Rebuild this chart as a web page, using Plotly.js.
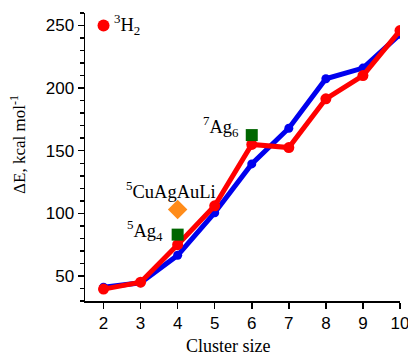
<!DOCTYPE html>
<html><head><meta charset="utf-8">
<script src="https://cdn.plot.ly/plotly-3.0.1.min.js"></script>
<style>html,body{margin:0;padding:0;background:#fff}#c{width:408px;height:356px}</style>
</head><body><div id="c"></div>
<script>
const clusterSize = [2, 3, 4, 5, 6, 7, 8, 9, 10];
const blueSeries = [41, 44.5, 66.5, 100.5, 139.5, 168, 207.5, 216, 243];
const redSeries = [39.5, 45, 75, 106, 155, 152.5, 191.5, 210, 246];
const agX = [4, 6];
const agY = [83, 162.5];
const agLabels = ['<sup>5</sup>Ag<sub>4</sub>', '<sup>7</sup>Ag<sub>6</sub>'];
const cuX = [4];
const cuY = [103];
const cuLabel = '<sup>5</sup>CuAgAuLi';
const legendX = [2];
const legendY = [250];
const legendLabel = '<sup>3</sup>H<sub>2</sub>';
const yTicks = [50, 100, 150, 200, 250];
const xTitle = 'Cluster size';
const yTitle = 'ΔE, kcal mol<sup>-1</sup>';

const serif = 'Liberation Serif, Times New Roman, serif';
const sans = 'Liberation Sans, Arial, sans-serif';
const labelFont = {family: serif, size: 18.5, color: '#000'};

const traces = [
  {x: clusterSize, y: blueSeries, mode: 'lines+markers', line: {color: '#0000ee', width: 5}, marker: {color: '#0000ee', size: 9}, showlegend: false},
  {x: clusterSize, y: redSeries, mode: 'lines+markers', line: {color: '#ff0000', width: 5}, marker: {color: '#ff0000', size: 11}, showlegend: false},
  {x: agX, y: agY, mode: 'markers', marker: {color: '#006600', size: 12, symbol: 'square'}, showlegend: false},
  {x: cuX, y: cuY, mode: 'markers', marker: {color: '#ff8c1a', size: 15, symbol: 'diamond'}, showlegend: false},
  {x: legendX, y: legendY, mode: 'markers', marker: {color: '#ff0000', size: 12}, showlegend: false}
];

const annotations = [
  {x: agX[0], y: agY[0], text: agLabels[0], xanchor: 'right', yanchor: 'middle', xshift: -13, yshift: 4, showarrow: false, font: labelFont},
  {x: agX[1], y: agY[1], text: agLabels[1], xanchor: 'right', yanchor: 'middle', xshift: -11, yshift: 9, showarrow: false, font: labelFont},
  {x: cuX[0], y: cuY[0], text: cuLabel, xanchor: 'center', yanchor: 'bottom', xshift: -7, yshift: 6, showarrow: false, font: labelFont},
  {x: legendX[0], y: legendY[0], text: legendLabel, xanchor: 'left', yanchor: 'middle', xshift: 8, yshift: 1, showarrow: false, font: labelFont},
  {xref: 'paper', yref: 'paper', x: 0.454, y: 0, yshift: -45, text: xTitle, xanchor: 'center', yanchor: 'middle', showarrow: false, font: {family: serif, size: 18, color: '#000'}},
  {xref: 'paper', yref: 'paper', x: 0, y: 0.542, xshift: -67, text: yTitle, textangle: -90, xanchor: 'center', yanchor: 'middle', showarrow: false, font: {family: serif, size: 17, color: '#000'}}
];

const layout = {
  width: 408, height: 356,
  margin: {l: 85, r: 8, t: 13, b: 55},
  paper_bgcolor: '#fff', plot_bgcolor: '#fff',
  showlegend: false,
  xaxis: {
    range: [1.5, 10], showgrid: false, zeroline: false, showline: true, linecolor: '#000', linewidth: 1.5,
    ticks: 'outside', ticklen: 6, tickcolor: '#000', tickwidth: 1.5,
    tickvals: clusterSize, ticktext: clusterSize.map(String), ticklabeloverflow: 'allow',
    tickfont: {family: sans, size: 17, color: '#000'}
  },
  yaxis: {
    range: [30, 260], showgrid: false, zeroline: false, showline: true, linecolor: '#000', linewidth: 1.5,
    ticks: 'outside', ticklen: 6, tickcolor: '#000', tickwidth: 1.5,
    tickvals: yTicks,
    minor: {dtick: 10, tick0: 0, ticks: 'outside', ticklen: 4, tickcolor: '#000', tickwidth: 1.5, showgrid: false},
    tickfont: {family: sans, size: 17, color: '#000'}
  },
  annotations: annotations
};

Plotly.newPlot('c', traces, layout, {displayModeBar: false, staticPlot: true});
</script>
</body></html>
